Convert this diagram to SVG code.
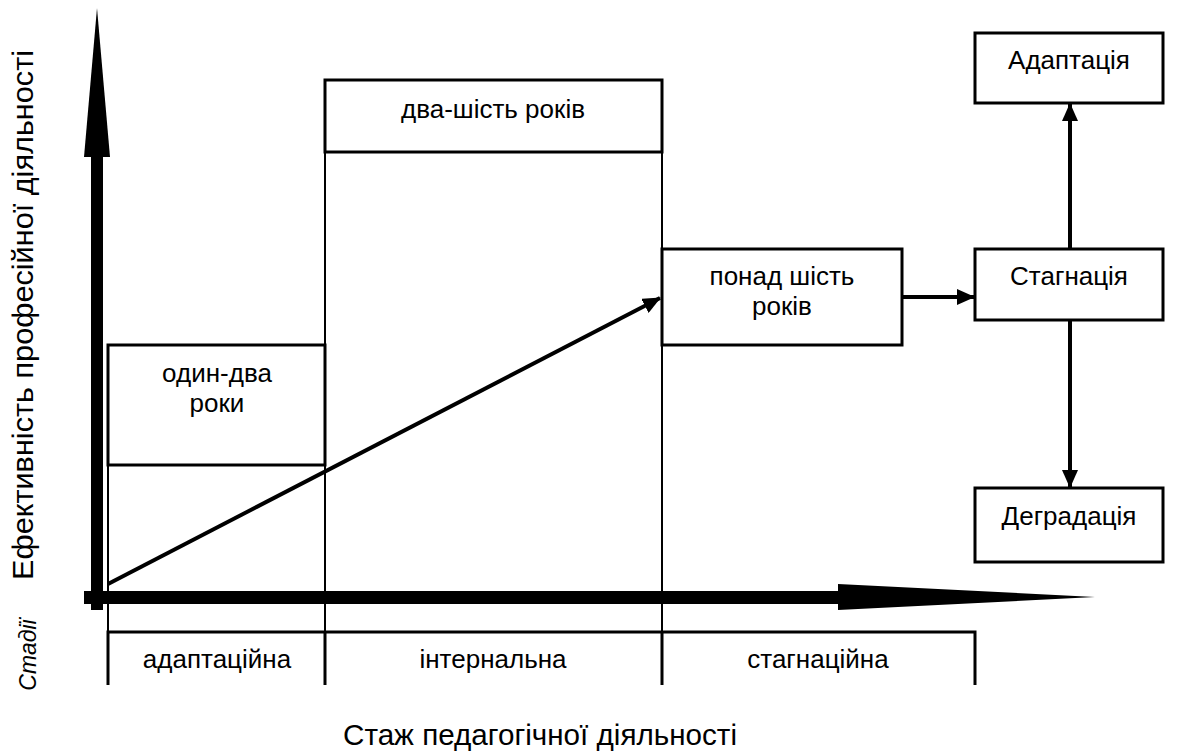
<svg xmlns="http://www.w3.org/2000/svg" width="1188" height="753" viewBox="0 0 1188 753">
<style>
text{font-family:"Liberation Sans",Arial,sans-serif;fill:#000}
.lbl{font-size:26px;text-anchor:middle}
.box{fill:#fff;stroke:#000;stroke-width:3}
.thin{stroke:#000;stroke-width:2;fill:none}
.med{stroke:#000;stroke-width:3;fill:none}
.con{stroke:#000;stroke-width:4;fill:none}
</style>
<defs>
<marker id="ah" markerUnits="userSpaceOnUse" markerWidth="18" markerHeight="16" viewBox="0 0 18 16" refX="17" refY="8" orient="auto">
<path d="M0,0 L18,8 L0,16 z" fill="#000"/>
</marker>
</defs>
<rect width="1188" height="753" fill="#fff"/>

<g id="grid">
<line class="thin" x1="108" y1="465" x2="108" y2="632"/>
<line class="thin" x1="325" y1="80" x2="325" y2="632"/>
<line class="thin" x1="662" y1="152" x2="662" y2="632"/>
</g>

<g id="stages">
<path class="med" d="M108,685 V632 H975 V685 M325,632 V685 M662,632 V685"/>
<text class="lbl" x="217" y="668">адаптаційна</text>
<text class="lbl" x="493" y="668">інтернальна</text>
<text class="lbl" x="818" y="668">стагнаційна</text>
</g>

<g id="axes">
<rect x="91" y="150" width="12" height="460" fill="#000"/>
<polygon points="97,8 110,157 84,157" fill="#000"/>
<rect x="84" y="591" width="760" height="13" fill="#000"/>
<polygon points="838,584 1095,597 838,610" fill="#000"/>
</g>

<g id="node-odyn-dva">
<rect class="box" x="108" y="345" width="217" height="120"/>
<text class="lbl" x="217" y="382">один-два</text>
<text class="lbl" x="217" y="412">роки</text>
</g>

<g id="node-dva-shist">
<rect class="box" x="325" y="80" width="337" height="72"/>
<text class="lbl" x="493" y="118">два-шість років</text>
</g>

<g id="node-ponad">
<rect class="box" x="662" y="249" width="240" height="96"/>
<text class="lbl" x="782" y="285">понад шість</text>
<text class="lbl" x="782" y="315">років</text>
</g>

<g id="node-adaptatsiia">
<rect class="box" x="975" y="33" width="188" height="70"/>
<text class="lbl" x="1069" y="69">Адаптація</text>
</g>

<g id="node-stagnatsiia">
<rect class="box" x="975" y="249" width="188" height="71"/>
<text class="lbl" x="1069" y="285">Стагнація</text>
</g>

<g id="node-degradatsiia">
<rect class="box" x="975" y="488" width="188" height="74"/>
<text class="lbl" x="1069" y="525">Деградація</text>
</g>

<g id="connectors">
<line class="con" x1="108" y1="584" x2="660" y2="298" marker-end="url(#ah)"/>
<line class="con" x1="902" y1="297" x2="974" y2="297" marker-end="url(#ah)"/>
<line class="con" x1="1070" y1="249" x2="1070" y2="104" marker-end="url(#ah)"/>
<line class="con" x1="1070" y1="320" x2="1070" y2="487" marker-end="url(#ah)"/>
</g>

<g id="titles">
<text x="0" y="0" font-size="30" text-anchor="middle" textLength="530" lengthAdjust="spacingAndGlyphs" transform="translate(33,315) rotate(-90)">Ефективність професійної діяльності</text>
<text x="0" y="0" font-size="23" font-style="italic" text-anchor="middle" transform="translate(36,655) rotate(-90)">Стадії</text>
<text x="540" y="745" font-size="30" text-anchor="middle" textLength="394" lengthAdjust="spacingAndGlyphs">Стаж педагогічної діяльності</text>
</g>
</svg>
